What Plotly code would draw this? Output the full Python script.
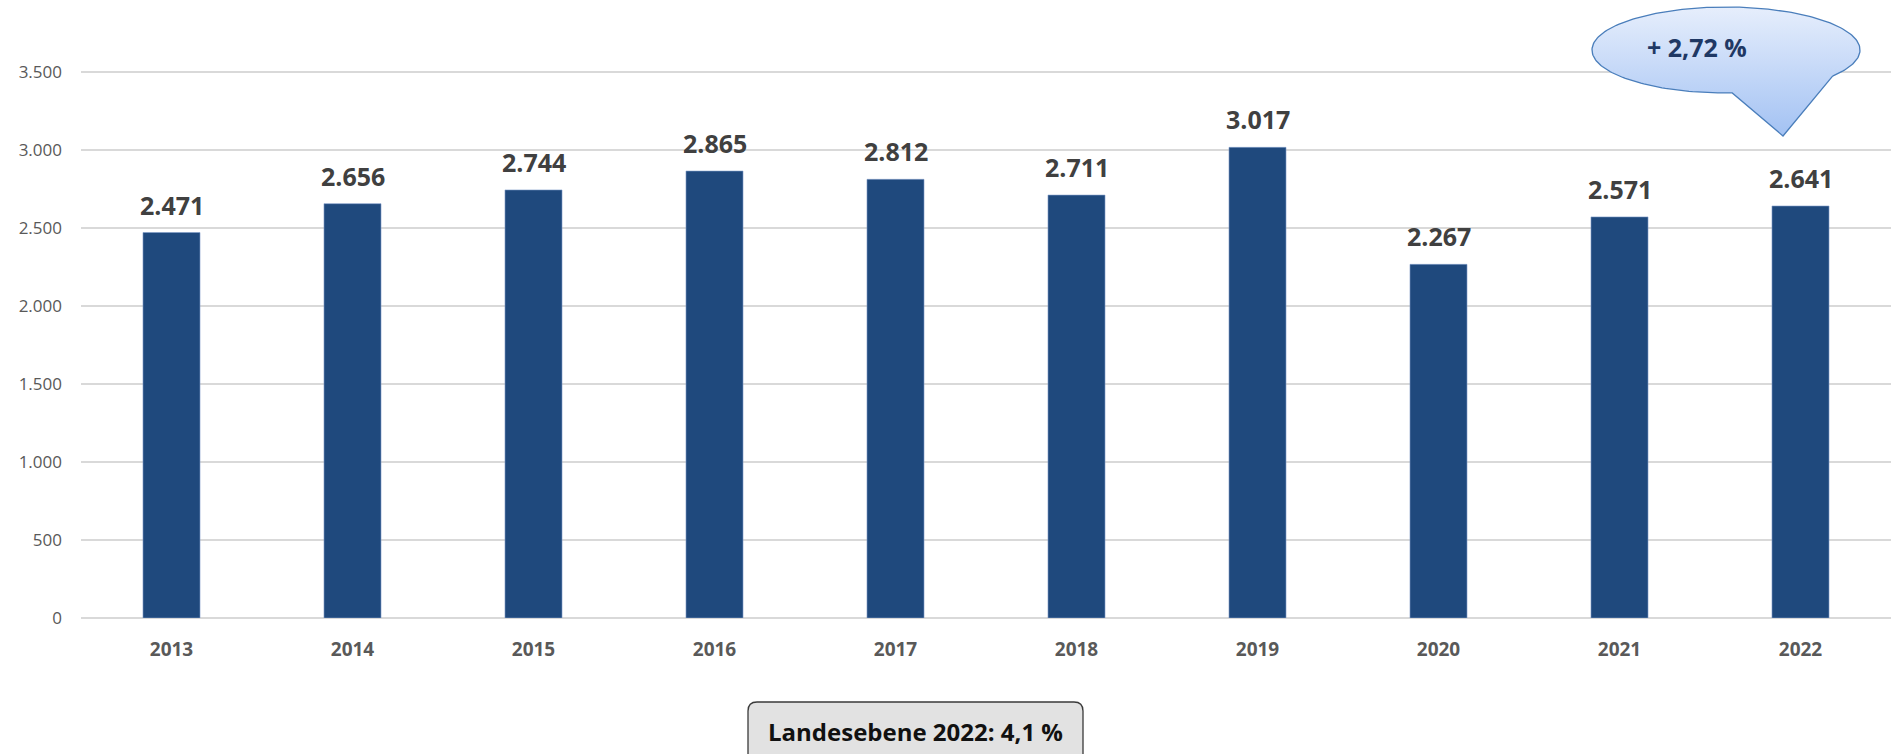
import numpy as np
import plotly.graph_objects as go

years = ["2013", "2014", "2015", "2016", "2017", "2018", "2019", "2020", "2021", "2022"]
values = [2471, 2656, 2744, 2865, 2812, 2711, 3017, 2267, 2571, 2641]
y_ticks = [0, 500, 1000, 1500, 2000, 2500, 3000, 3500]
callout_text = "+ 2,72 %"
box_text = "Landesebene 2022: 4,1 %"

W, H = 1892, 754
PL, PR, PB = 81, 1891, 618      # plot area pixel edges (top is 0)
PT = 0
Y_GRID_TOP_PX = 72
ymax = y_ticks[-1] * (PB - PT) / (PB - Y_GRID_TOP_PX)

FONT = "Open Sans"

fig = go.Figure()
fig.add_trace(go.Bar(
    x=years, y=values, xaxis="x", yaxis="y",
    marker=dict(color="#1f497d", line=dict(color="#7f9cc9", width=0.6)),
    width=0.315, hoverinfo="skip", showlegend=False,
))

annotations = []
for i, v in enumerate(values):
    annotations.append(dict(
        x=i, y=v, xref="x", yref="y", text=f"{v:,}".replace(",", "."),
        showarrow=False, yanchor="bottom", yshift=9,
        font=dict(family=FONT, size=25, color="#404040", weight="bold"),
    ))

# speech-bubble callout (pixel coordinates on an invisible overlay axis pair)
cx, cy, rx, ry = 1726, 50, 134, 43
left_pt_x, right_pt_x = 1728, 1778
tip = (1783, 136)
a_right = np.arctan2(ry * np.sqrt(1 - ((right_pt_x - cx) / rx) ** 2), right_pt_x - cx)
a_left = np.arctan2(ry * np.sqrt(1 - ((left_pt_x - cx) / rx) ** 2), left_pt_x - cx)
angs = np.linspace(a_right, a_left - 2 * np.pi, 200)
ex = cx + rx * np.cos(angs)
ey = cy + ry * np.sin(angs)
px = list(ex) + [tip[0], ex[0]]
py = list(ey) + [tip[1], ey[0]]
fig.add_trace(go.Scatter(
    x=px, y=py, xaxis="x2", yaxis="y2", mode="lines",
    line=dict(color="#4a7ebb", width=1.3), fill="toself",
    fillgradient=dict(type="vertical", colorscale=[[0, "#a3c2f3"], [1, "#e6eefc"]]),
    hoverinfo="skip", showlegend=False,
))
annotations.append(dict(
    x=1697, y=47, xref="x2", yref="y2", text=callout_text, showarrow=False,
    font=dict(family=FONT, size=25, color="#1f3864", weight="bold"),
))

# bottom info box (paper coordinates)
def ppx(x):
    return (x - PL) / (PR - PL)

def ppy(y):
    return (PB - y) / (PB - PT)

bx0, bx1, by0, by1, r = 748, 1083, 702, 764, 9
path = (f"M {ppx(bx0 + r)},{ppy(by0)} L {ppx(bx1 - r)},{ppy(by0)} "
        f"Q {ppx(bx1)},{ppy(by0)} {ppx(bx1)},{ppy(by0 + r)} "
        f"L {ppx(bx1)},{ppy(by1)} L {ppx(bx0)},{ppy(by1)} "
        f"L {ppx(bx0)},{ppy(by0 + r)} Q {ppx(bx0)},{ppy(by0)} {ppx(bx0 + r)},{ppy(by0)} Z")
shapes = [dict(type="path", xref="paper", yref="paper", path=path,
               fillcolor="#e2e2e2", line=dict(color="#3a3a3a", width=1.3), layer="above")]
annotations.append(dict(
    x=ppx(915), y=ppy(731), xref="paper", yref="paper", text=box_text, showarrow=False,
    xanchor="center", yanchor="middle",
    font=dict(family=FONT, size=24, color="#111111", weight="bold"),
))

fig.update_layout(
    width=W, height=H,
    margin=dict(l=PL, r=W - PR, t=PT, b=H - PB, pad=0),
    paper_bgcolor="white", plot_bgcolor="white",
    separators=",.",
    bargap=0.685,
    xaxis=dict(
        type="category", range=[-0.5, len(years) - 0.5], autorange=False,
        showgrid=False, showline=False, ticks="", zeroline=False,
        ticklabelstandoff=18,
        tickfont=dict(family=FONT, size=19, color="#595959", weight="bold"),
        fixedrange=True,
    ),
    yaxis=dict(
        type="linear", range=[0, ymax], autorange=False,
        tickvals=y_ticks, tickformat=",d",
        showgrid=True, gridcolor="#d9d9d9", gridwidth=1.5,
        zeroline=True, zerolinecolor="#d9d9d9", zerolinewidth=1.5,
        showline=False, ticks="", ticklabelstandoff=18,
        tickfont=dict(family=FONT, size=17, color="#595959"),
        fixedrange=True,
    ),
    xaxis2=dict(type="linear", overlaying="x", anchor="y2", range=[PL, PR], autorange=False,
                visible=False, showgrid=False, zeroline=False, fixedrange=True),
    yaxis2=dict(type="linear", overlaying="y", anchor="x2", range=[PB, PT], autorange=False,
                visible=False, showgrid=False, zeroline=False, fixedrange=True),
    annotations=annotations,
    shapes=shapes,
)

fig.write_html(
    "out.html",
    config={"displayModeBar": False},
    post_script="document.body.style.margin='0';document.body.style.overflow='hidden';",
)
